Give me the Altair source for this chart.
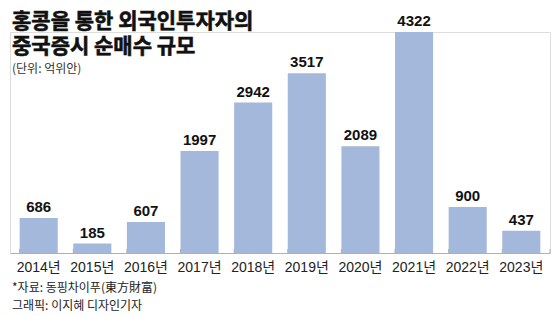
import altair as alt
import pandas as pd

years = ["2014년", "2015년", "2016년", "2017년", "2018년", "2019년", "2020년", "2021년", "2022년", "2023년"]
values = [686, 185, 607, 1997, 2942, 3517, 2089, 4322, 900, 437]

title1 = "홍콩을 통한 외국인투자자의"
title2 = "중국증시 순매수 규모"
unit = "(단위: 억위안)"
source1 = "*자료: 동핑차이푸(東方財富)"
source2 = "그래픽: 이지혜 디자인기자"

df = pd.DataFrame({"year": years, "value": values})

KFONT = "Liberation Sans, Noto Sans CJK KR, sans-serif"
TFONT = "Noto Sans CJK KR, sans-serif"

xscale = alt.Scale(paddingInner=0.29, paddingOuter=0.18)
yscale = alt.Scale(domain=[0, 4322], nice=False)

base = alt.Chart(df)

bars = base.mark_bar(color="#a3b8da").encode(
    x=alt.X("year:N", sort=years, scale=xscale,
            axis=alt.Axis(title=None, ticks=False, domainColor="#b0b0b0", domainWidth=1,
                          labelFont=KFONT, labelFontSize=14, labelColor="#222222",
                          labelPadding=7, labelAngle=0)),
    y=alt.Y("value:Q", scale=yscale, axis=None),
)

labels = base.mark_text(baseline="alphabetic", dy=-6, font="Liberation Sans",
                        fontWeight="bold", fontSize=15, color="#111111").encode(
    x=alt.X("year:N", sort=years, scale=xscale),
    y=alt.Y("value:Q", scale=yscale),
    text=alt.Text("value:Q"),
)

ticks = base.mark_rule(color="#b0b0b0", strokeWidth=1).encode(
    x=alt.X("year:N", sort=years, scale=xscale, bandPosition=0),
    y=alt.value(217), y2=alt.value(221),
)
end_tick = alt.Chart(pd.DataFrame({"a": [0]})).mark_rule(color="#b0b0b0", strokeWidth=1).encode(
    x=alt.value(540), y=alt.value(217), y2=alt.value(221),
)

one = pd.DataFrame({"a": [0]})

title = alt.Chart(one).mark_text(
    align="left", baseline="alphabetic", font=TFONT, fontSize=21, fontWeight="bold",
    color="#111111", stroke="#111111", strokeWidth=0.6, lineHeight=25,
).encode(x=alt.value(2), y=alt.value(-4), text=alt.value([title1, title2]))

def txt(t, y, size, color="#222222"):
    return alt.Chart(one).mark_text(align="left", baseline="alphabetic", font=TFONT,
                                    fontSize=size, color=color).encode(
        x=alt.value(2), y=alt.value(y), text=alt.value(t))

t3 = txt(unit, 41, 12, color="#333333")
s1 = txt(source1, 260, 12)
s2 = txt(source2, 278, 12)

chart = alt.layer(bars, ticks, end_tick, labels, title, t3, s1, s2).properties(
    width=540, height=221,
    padding={"left": 10, "right": 10, "top": 32, "bottom": 63},
    autosize=alt.AutoSizeParams(type="none"),
).configure_view(stroke=None).configure(background="white")

chart.save("out.html", embed_options={"renderer": "svg", "actions": False})
